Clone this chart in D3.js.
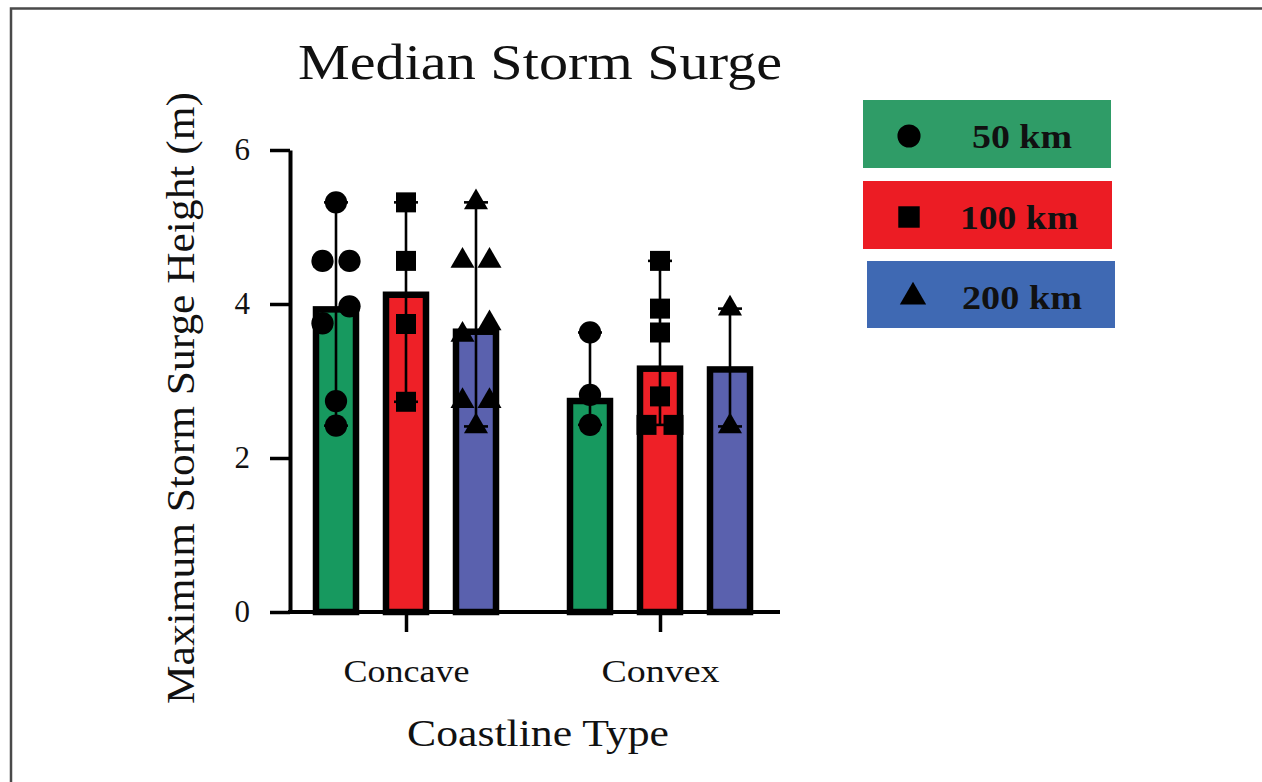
<!DOCTYPE html>
<html>
<head>
<meta charset="utf-8">
<script src="https://cdn.jsdelivr.net/npm/d3@7"></script>
<style>
  html, body { margin: 0; padding: 0; background: #fff; }
  svg { display: block; }
  text { font-family: "Liberation Serif", "DejaVu Serif", serif; fill: #111; }
</style>
</head>
<body>
<svg id="chart" width="1262" height="782"></svg>
<script>
// Coastline categories and distance series
const categories = ["Concave", "Convex"];
const seriesNames = ["50 km", "100 km", "200 km"];

// Median surge height (m) per series, one array per coastline type
const medianConcave = [3.93, 4.12, 3.64];
const medianConvex = [2.74, 3.16, 3.15];

// Individual storm surge maxima (m)
const concave50 = [5.32, 4.56, 4.56, 3.97, 3.75, 2.74, 2.42];
const concave100 = [5.32, 4.56, 3.74, 2.73];
const concave200 = [5.32, 4.56, 4.56, 3.75, 3.60, 2.74, 2.74, 2.41];
const convex50 = [3.63, 2.82, 2.43];
const convex100 = [4.56, 3.94, 3.63, 2.80, 2.43, 2.43];
const convex200 = [3.94, 2.41];

const yTicks = [0, 2, 4, 6];

const barColors = ["#17995f", "#ee2027", "#5a61ae"];
const legendColors = ["#2f9c67", "#ec1c24", "#3f69b3"];
const symbolTypes = [d3.symbolCircle, d3.symbolSquare, d3.symbolTriangle];

const medians = { Concave: medianConcave, Convex: medianConvex };
const points = {
  Concave: [concave50, concave100, concave200],
  Convex: [convex50, convex100, convex200]
};

const svg = d3.select("#chart");

// outer frame
svg.append("rect")
  .attr("x", 11).attr("y", 8.5)
  .attr("width", 1300).attr("height", 900)
  .attr("fill", "none").attr("stroke", "#4a4a4a").attr("stroke-width", 2.5);

const plot = { left: 290, right: 780, top: 150, bottom: 612 };

const y = d3.scaleLinear().domain([0, 6]).range([plot.bottom, plot.top]);
const x = d3.scalePoint().domain(categories).range([406, 660]);
const xs = d3.scalePoint().domain(seriesNames).range([-70, 70]);
const barW = 40;

// bars
const groups = svg.append("g").selectAll("g")
  .data(categories).join("g")
  .attr("transform", c => `translate(${x(c)},0)`);

groups.selectAll("rect.bar")
  .data(c => seriesNames.map((s, i) => ({ s, i, v: medians[c][i] })))
  .join("rect").attr("class", "bar")
  .attr("x", d => xs(d.s) - barW / 2)
  .attr("width", barW)
  .attr("y", d => y(d.v))
  .attr("height", d => y(0) - y(d.v))
  .attr("fill", d => barColors[d.i])
  .attr("stroke", "#000")
  .attr("stroke-width", 6.5);

// range whiskers
const capW = 24;
groups.each(function (c) {
  const g = d3.select(this);
  seriesNames.forEach((s, i) => {
    const vals = points[c][i];
    const lo = d3.min(vals), hi = d3.max(vals), cx = xs(s);
    const w = g.append("g").attr("stroke", "#000").attr("stroke-width", 2.6);
    w.append("line").attr("x1", cx).attr("x2", cx).attr("y1", y(lo)).attr("y2", y(hi));
    w.append("line").attr("x1", cx - capW / 2).attr("x2", cx + capW / 2).attr("y1", y(hi)).attr("y2", y(hi));
    w.append("line").attr("x1", cx - capW / 2).attr("x2", cx + capW / 2).attr("y1", y(lo)).attr("y2", y(lo));
  });
});

// scatter points, spreading values that would overlap
function spread(vals) {
  const sorted = vals.slice().sort((a, b) => a - b);
  const clusters = [];
  sorted.forEach(v => {
    const last = clusters[clusters.length - 1];
    if (last && y(last[last.length - 1]) - y(v) < 21) last.push(v);
    else clusters.push([v]);
  });
  return clusters.flatMap(cl => cl.map((v, k) => ({ v, dx: (k - (cl.length - 1) / 2) * 27 })));
}
const symbolSizes = [390, 400, 250];
groups.each(function (c) {
  const g = d3.select(this);
  seriesNames.forEach((s, i) => {
    g.append("g").selectAll("path")
      .data(spread(points[c][i]))
      .join("path")
      .attr("d", d3.symbol().type(symbolTypes[i]).size(symbolSizes[i]))
      .attr("transform", d => `translate(${xs(s) + d.dx},${y(d.v)})`)
      .attr("fill", "#000");
  });
});

// y axis
const yAxis = svg.append("g")
  .attr("transform", `translate(${plot.left},0)`)
  .call(d3.axisLeft(y).tickValues(yTicks).tickFormat(d3.format("d"))
    .tickSize(20).tickSizeOuter(0).tickPadding(20));
yAxis.select(".domain").attr("stroke", "#000").attr("stroke-width", 4);
yAxis.selectAll(".tick line").attr("stroke", "#000").attr("stroke-width", 3.5);
yAxis.selectAll(".tick text").attr("font-size", 31).attr("font-family", "Liberation Serif").attr("fill", "#222");

// x axis
svg.append("line")
  .attr("x1", plot.left - 2).attr("x2", plot.right)
  .attr("y1", plot.bottom).attr("y2", plot.bottom)
  .attr("stroke", "#000").attr("stroke-width", 4);
const xAxis = svg.append("g")
  .attr("transform", `translate(0,${plot.bottom})`)
  .call(d3.axisBottom(x).tickSize(20).tickSizeOuter(0).tickPadding(27));
xAxis.select(".domain").remove();
xAxis.selectAll(".tick line").attr("stroke", "#000").attr("stroke-width", 3.5);
xAxis.selectAll(".tick text")
  .attr("font-size", 32).attr("font-family", "Liberation Serif").attr("fill", "#222")
  .attr("textLength", (d, i) => [126, 118][i]).attr("lengthAdjust", "spacingAndGlyphs");

// titles
svg.append("text")
  .attr("x", 540).attr("y", 79)
  .attr("text-anchor", "middle")
  .attr("font-size", 50)
  .attr("textLength", 484).attr("lengthAdjust", "spacingAndGlyphs")
  .text("Median Storm Surge");

svg.append("text")
  .attr("transform", "translate(194,398) rotate(-90)")
  .attr("text-anchor", "middle")
  .attr("font-size", 39)
  .attr("textLength", 612).attr("lengthAdjust", "spacingAndGlyphs")
  .text("Maximum Storm Surge Height (m)");

svg.append("text")
  .attr("x", 538).attr("y", 746)
  .attr("text-anchor", "middle")
  .attr("font-size", 38)
  .attr("textLength", 262).attr("lengthAdjust", "spacingAndGlyphs")
  .text("Coastline Type");

// legend
const legendBoxes = [
  { x: 863, y: 100, w: 248, h: 68, tx: 972, tw: 100 },
  { x: 863, y: 181, w: 249, h: 68, tx: 960, tw: 118 },
  { x: 867, y: 261, w: 248, h: 67, tx: 962, tw: 120 }
];
const legend = svg.append("g").selectAll("g")
  .data(seriesNames).join("g");
legend.append("rect")
  .attr("x", (d, i) => legendBoxes[i].x).attr("y", (d, i) => legendBoxes[i].y)
  .attr("width", (d, i) => legendBoxes[i].w).attr("height", (d, i) => legendBoxes[i].h)
  .attr("fill", (d, i) => legendColors[i]);
legend.append("path")
  .attr("d", (d, i) => d3.symbol().type(symbolTypes[i]).size([420, 460, 300][i])())
  .attr("transform", (d, i) => `translate(${legendBoxes[i].x + 46},${legendBoxes[i].y + 36})`)
  .attr("fill", "#000");
legend.append("text")
  .attr("x", (d, i) => legendBoxes[i].tx)
  .attr("y", (d, i) => legendBoxes[i].y + 48)
  .attr("font-size", 34).attr("font-weight", "bold")
  .attr("textLength", (d, i) => legendBoxes[i].tw).attr("lengthAdjust", "spacingAndGlyphs")
  .text(d => d);
</script>
</body>
</html>
